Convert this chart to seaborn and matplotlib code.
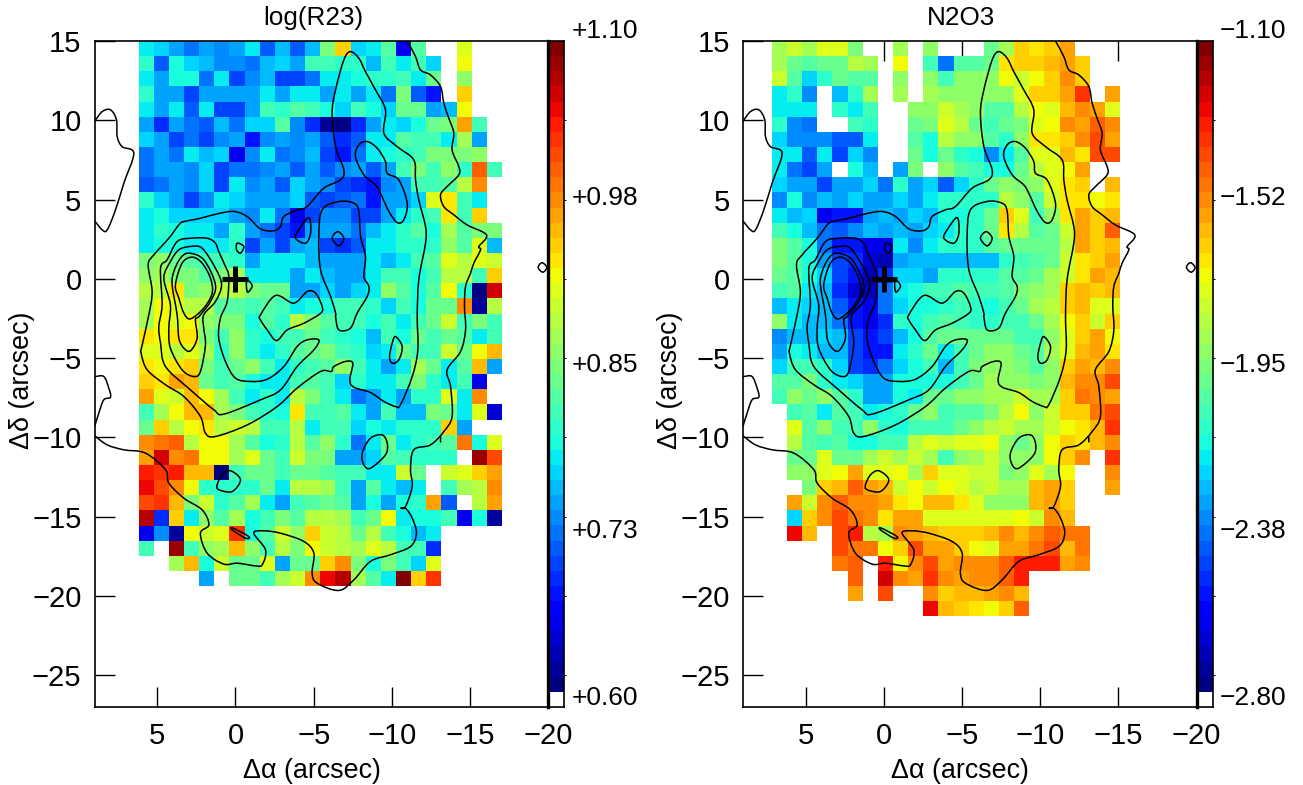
import numpy as np
import matplotlib
matplotlib.use('Agg')
import matplotlib.pyplot as plt
from matplotlib.path import Path
from matplotlib.patches import PathPatch
import seaborn as sns

X = np.nan

# log(R23), rows from north to south, in units of 0.01
r23_rows = [
    [78,77,74,72,75,73,75,78,71,76,71,76,85,94,77,78,83,65,83,X,X,91,X,X],
    [80,71,79,77,76,73,73,72,76,77,75,81,81,80,80,76,82,78,82,77,X,92,X,X],
    [78,75,79,79,72,78,70,73,76,70,70,72,78,78,79,80,80,81,78,84,X,86,X,X],
    [80,75,74,70,74,75,75,74,78,74,78,78,75,78,75,78,72,85,71,67,X,94,X,X],
    [78,75,78,71,78,70,70,75,82,80,83,81,79,77,81,79,77,84,84,75,76,92,X,X],
    [74,69,74,72,71,76,72,77,77,83,73,69,62,61,69,74,78,77,79,84,85,97,82,X],
    [77,74,70,72,70,73,75,68,73,75,73,74,71,69,71,78,78,83,81,81,78,87,75,X],
    [72,74,72,78,76,77,65,73,78,72,73,76,70,67,72,78,79,80,82,85,85,85,86,X],
    [72,74,74,73,77,70,72,72,73,74,71,75,71,73,75,71,74,82,85,82,86,80,100,81],
    [71,72,74,73,77,70,78,73,75,71,77,74,73,70,69,67,73,74,82,81,83,88,98,X],
    [80,77,75,70,73,78,77,74,74,75,77,71,70,71,72,67,74,75,77,91,93,81,78,X],
    [78,79,77,77,77,77,75,73,78,72,65,70,73,73,70,70,74,78,80,82,93,82,94,X],
    [78,80,79,78,78,74,80,74,72,70,68,75,74,74,72,76,78,80,83,79,87,83,85,85],
    [78,79,79,78,78,78,80,70,75,70,74,76,70,69,71,78,78,80,80,80,86,83,91,76],
    [85,86,84,83,82,81,80,75,78,78,78,76,75,75,75,78,76,78,81,83,91,89,91,90],
    [86,87,85,85,83,85,87,78,78,78,74,78,76,75,74,78,82,81,79,82,88,88,81,94],
    [89,89,93,85,86,88,88,85,84,84,74,74,77,74,77,78,86,83,79,83,92,80,61,106],
    [87,92,91,89,89,83,83,81,83,82,78,79,79,81,81,80,77,82,79,84,84,98,62,88],
    [87,92,91,92,86,85,85,79,83,80,88,85,83,81,82,79,81,78,82,84,90,81,85,82],
    [93,92,93,93,85,82,86,80,79,81,82,84,81,80,79,76,81,79,84,82,84,83,78,82],
    [91,91,89,91,87,80,86,80,78,80,83,84,85,81,80,77,78,84,82,82,90,84,92,95],
    [93,92,93,94,85,82,84,86,82,78,80,82,83,86,81,78,75,78,87,84,78,83,95,74],
    [94,93,97,95,84,82,83,79,78,78,81,83,81,77,80,78,78,81,85,80,78,81,65,X],
    [97,91,90,96,92,87,81,78,80,78,88,85,82,78,72,74,78,75,80,80,91,78,98,X],
    [82,87,92,95,95,87,85,82,80,79,93,82,81,83,78,74,82,76,76,85,84,78,91,64],
    [84,94,88,92,93,89,90,89,82,81,89,78,81,82,77,79,78,80,80,80,94,75,X,X],
    [98,99,100,89,92,92,87,83,79,80,89,83,86,80,72,78,84,78,80,81,83,99,79,91],
    [97,106,98,99,92,92,87,91,84,81,90,85,85,74,74,77,83,82,80,80,80,X,108,101],
    [104,102,104,96,96,61,82,84,84,81,84,84,83,81,81,78,78,90,84,X,90,91,94,97],
    [105,101,98,92,80,80,80,80,84,78,89,89,87,81,74,83,78,76,78,X,81,87,89,98],
    [101,102,96,85,90,80,83,87,78,75,82,83,84,83,75,79,74,79,80,97,71,X,89,97],
    [107,69,94,78,86,83,87,79,81,85,83,88,88,87,81,84,92,78,79,79,82,65,79,62],
    [65,73,62,92,90,91,103,79,83,90,86,94,90,88,84,88,81,79,76,78,X,X,X,X],
    [81,X,108,82,86,87,96,86,82,88,85,92,90,89,87,91,89,82,82,69,X,X,X,X],
    [X,X,87,96,79,90,84,84,91,74,84,84,94,98,85,79,85,81,77,91,X,X,X,X],
    [X,X,X,X,74,X,84,84,82,87,90,98,105,107,87,83,78,109,94,102,X,X,X,X],
]

# N2O3, same layout, in units of 0.01
n2o3_rows = [
    [-186,-181,-186,-175,-175,-196,X,X,-186,X,-190,X,X,X,-197,-186,-164,-168,-164,-155,X,X,X],
    [-186,-198,-203,-198,-198,-183,-186,X,-171,X,-206,-237,-203,-201,-198,-169,-164,-162,-159,-155,-164,X,X],
    [-179,-201,-223,-210,-198,-201,-203,X,-190,X,-193,-208,-190,-190,-190,-171,-181,-171,-163,-152,-164,X,X],
    [-217,-210,-235,X,-225,-210,-186,X,-186,X,-188,-190,-190,-190,-192,-190,-174,-163,-163,-155,-136,X,-156],
    [-220,-220,-219,X,-210,-219,-205,X,X,-192,-192,-181,-186,-193,-203,-201,-183,-171,-175,-160,-152,-155,-175],
    [-212,-235,-238,X,X,-205,-212,X,X,-198,-196,-174,-183,-200,-208,-198,-194,-174,-171,-152,-155,-143,-150],
    [-222,-233,-235,-235,-242,-242,-217,X,X,-203,-216,-183,-190,-193,-203,-212,-193,-169,-168,-163,-150,-138,-156],
    [-219,-217,-242,-217,-247,-223,-233,X,X,-198,-216,-198,-210,-216,-233,-219,-201,-174,-174,-160,-168,-140,-141],
    [-219,-239,-245,-229,X,-216,-227,X,-229,-196,X,-193,-201,-206,-216,-215,-198,-183,-174,-170,-155,X,X],
    [-223,-230,-231,-247,-230,-230,-224,-237,-212,-230,-222,-243,-223,-210,-197,-193,-195,-190,-174,-168,-163,X,-160],
    [-233,-216,-235,-227,-230,-223,-230,-230,-221,-230,-219,-210,-212,-212,-210,-183,-190,-201,-181,-169,-168,-171,-168],
    [-220,-227,-222,-261,-255,-254,-230,-225,-230,-223,-228,-216,-216,-210,-197,-164,-174,-206,-193,-169,-155,-163,-160],
    [-206,-216,-227,-240,-243,-235,-227,-231,-227,-230,-222,-219,-212,-212,-198,-168,-184,-203,-198,-181,-155,-164,-144],
    [-196,-203,-216,-240,-255,-256,-263,-261,-219,-233,-219,-212,-212,-210,-201,-200,-198,-198,-198,-183,-155,-164,-160],
    [-196,-203,-216,-230,-245,-252,-267,-270,-229,-227,-227,-227,-227,-227,-227,-210,-206,-203,-198,-181,-168,-164,-156],
    [-198,-203,-216,-223,-245,-256,-270,-252,-223,-224,-231,-212,-212,-212,-210,-201,-201,-198,-188,-181,-168,-155,-160],
    [-205,-201,-219,-227,-249,-268,-270,-238,-220,-216,-205,-206,-203,-206,-206,-203,-196,-193,-186,-163,-160,-163,-158],
    [-227,-217,-223,-227,-242,-256,-261,-237,-221,-216,-216,-212,-206,-210,-216,-205,-198,-186,-183,-164,-160,-174,-174],
    [-192,-217,-225,-227,-237,-254,-261,-249,-210,-216,-206,-201,-206,-210,-212,-208,-208,-198,-186,-172,-163,-178,-162],
    [-233,-227,-227,-222,-227,-245,-254,-247,-227,-216,-203,-200,-198,-200,-198,-200,-206,-206,-193,-177,-163,-155,-172],
    [-230,-216,-219,-225,-227,-245,-256,-255,-219,-212,-198,-219,-206,-200,-190,-190,-200,-203,-188,-177,-160,-156,-166],
    [-222,-206,-206,-212,-223,-247,-252,-239,-223,-215,-206,-227,-205,-196,-190,-190,-194,-203,-192,-162,-155,-160,-150],
    [-201,-203,-194,-210,-219,-223,-230,-230,-216,-216,-216,-216,-205,-198,-188,-192,-192,-195,-192,-160,-152,-150,-141],
    [-206,-190,-198,-192,-201,-210,-230,-230,-216,-219,-198,-198,-190,-190,-186,-186,-181,-186,-186,-164,-148,-150,-155],
    [X,-206,-201,-217,-201,-206,-219,-216,-210,-198,-193,-208,-203,-201,-196,-183,-171,-193,-181,-164,-164,-146,-138],
    [X,-177,-201,-192,-206,-205,-192,-212,-216,-205,-206,-205,-198,-190,-183,-178,-186,-188,-181,-171,-167,-160,-136],
    [X,-183,-201,-206,-201,-216,-214,-206,-206,-183,-177,-181,-177,-175,-172,-193,-199,-193,-171,-164,-168,-158,-150],
    [X,-198,-198,-175,-198,-198,-186,-178,-186,-181,-186,-206,-193,-186,-181,-190,-190,-190,-172,-164,-152,X,-136],
    [X,-192,-192,-177,-170,-156,-177,-175,-170,-186,-162,-175,-177,-178,-181,-195,-190,-177,-186,-172,X,X,-150],
    [X,X,-194,-162,-158,-144,-156,-158,-181,-172,-181,-171,-177,-183,-181,-186,-186,-160,-156,-164,X,X,-156],
    [X,-156,-181,-152,-143,-152,-152,-156,-168,-172,-158,-160,-168,-177,-190,-192,-190,-160,-156,-163,X,X,X],
    [X,-223,-163,-150,-138,-146,-152,-166,-155,-156,-177,-175,-175,-177,-177,-175,-171,-181,-152,-160,X,X,X],
    [X,-129,-158,X,-138,-132,-183,-186,-150,-155,-158,-162,-162,-162,-160,-152,-158,-152,-143,-148,-148,X,X],
    [X,X,X,X,-138,-148,-148,-172,-164,-141,-156,-156,-162,-170,-175,-155,-155,-148,-141,-160,-146,X,X],
    [X,X,X,X,-148,-143,X,-133,-172,-150,-138,-156,-152,-152,-150,-143,-133,-133,-132,-155,-150,X,X],
    [X,X,X,X,X,-144,X,-125,-150,-156,-135,-150,-155,-152,-152,-143,-133,X,X,X,X,X,X],
    [X,X,X,X,X,-155,X,-141,X,X,-152,-163,-160,-158,-155,-152,-160,X,X,X,X,X,X],
    [X,X,X,X,X,X,X,X,X,X,-129,-158,-164,-167,-171,-165,-142,X,X,X,X,X,X],
]

# Continuum contours in arcsec, (x, y)
contours = [
    [(-10.98,15.0),(-11.51,14.02),(-11.83,13.18),(-12.47,12.86),(-13.11,12.13),(-13.32,11.08),(-13.64,10.13),
     (-13.96,9.18),(-13.85,8.13),(-14.28,7.08),(-14.28,6.56),(-13.53,5.82),(-13.11,5.30),(-13.32,4.56),(-13.96,4.04),
     (-14.81,3.40),(-16.05,2.77),(-15.56,2.04),(-15.67,1.83),(-15.24,0.99),(-15.03,0.36),(-14.71,-0.48),(-14.64,-1.74),
     (-14.71,-3.22),(-14.39,-4.58),(-13.53,-5.74),(-13.75,-6.79),(-13.85,-8.68),(-13.32,-9.63),(-12.47,-10.47),
     (-11.40,-10.78),(-11.19,-12.04),(-11.30,-13.09),(-10.87,-14.36),(-10.55,-14.46),(-10.9,-14.5),(-11.30,-15.09),
     (-11.57,-16.04),(-11.19,-16.88),(-9.91,-17.40),(-8.63,-17.82),(-7.57,-18.98),(-6.61,-19.65),(-5.22,-19.19),
     (-4.90,-18.56),(-5.01,-17.30),(-4.37,-16.56),(-2.88,-16.04),(-1.81,-15.89),(-1.17,-16.04),(-1.92,-17.09),
     (-1.71,-18.03),(-1.28,-18.10),(-0.11,-17.93),(0.74,-17.99),(1.81,-17.30),(2.24,-16.04),(1.70,-15.51),(2.13,-14.57),
     (3.30,-13.83),(4.26,-12.88),(4.47,-12.04),(5.75,-10.99),(7.14,-10.78),(8.20,-10.47),(9.0,-9.9)],
    [(9.0,9.95),(8.52,10.55),(7.99,10.66),(7.61,10.03),(7.56,8.97),(7.25,8.34),(6.50,7.92),(7.14,6.03),(7.67,4.35),
     (8.20,3.09),(8.52,3.09),(9.0,3.65)],
    [(9.0,-6.16),(8.42,-6.16),(8.10,-6.89),(7.99,-7.46),(8.42,-7.63),(8.74,-8.47),(9.0,-9.3)],
    [(-7.35,14.33),(-7.89,13.91),(-8.31,13.07),(-8.95,11.92),(-9.59,10.66),(-9.49,9.18),(-10.34,8.34),(-11.40,7.50),
     (-11.51,6.24),(-11.72,4.98),(-12.15,3.30),(-12.15,2.25),(-11.72,-0.06),(-11.62,-2.37),(-11.66,-4.48),(-11.30,-6.16),
     (-10.55,-7.94),(-10.23,-8.05),(-9.49,-7.73),(-8.63,-7.17),(-7.57,-6.83),(-7.31,-6.37),(-7.50,-5.32),(-7.03,-5.21),
     (-6.29,-5.53),(-6.12,-5.84),(-5.44,-5.84),(-3.94,-6.89),(-2.67,-8.05),(-0.75,-9.21),(1.28,-9.94),(1.92,-9.73),
     (2.24,-8.68),(3.30,-7.42),(4.47,-6.68),(5.64,-5.74),(6.03,-4.69),(5.97,-4.2),(5.54,-2.27),(5.33,-0.80),(5.58,0.88),
     (5.22,1.51),(4.26,2.56),(3.62,3.40),(3.30,3.61),(2.24,3.82),(1.17,4.10),(0.11,4.25),(-0.75,3.93),(-1.60,3.15),
     (-2.45,3.03),(-2.88,3.30),(-3.09,3.93),(-3.94,4.35),(-4.58,4.56),(-5.65,5.72),(-6.71,6.24),(-6.93,6.87),(-6.40,8.34),
     (-6.18,10.45),(-6.40,11.92),(-6.93,13.81),(-7.35,14.33)],
    [(-6.61,4.88),(-7.57,4.77),(-7.89,4.25),(-8.00,2.67),(-8.31,1.41),(-8.21,0.15),(-8.53,-0.48),(-8.42,-1.11),
     (-7.78,-2.16),(-7.35,-3.11),(-6.61,-3.22),(-6.40,-2.38),(-6.40,-2.16),(-6.08,-1.11),(-5.44,0.57),(-5.33,2.67),
     (-5.54,4.35),(-6.61,4.88)],
    [(-6.18,2.56),(-6.54,2.98),(-6.93,2.56),(-6.61,2.08),(-6.18,2.56)],
    [(-8.42,8.66),(-9.06,8.24),(-9.59,7.40),(-9.70,6.66),(-10.44,6.24),(-10.98,4.77),(-10.76,3.72),(-10.34,3.55),
     (-9.81,4.25),(-9.27,5.40),(-8.95,5.93),(-8.21,6.56),(-7.67,7.71),(-7.89,8.45),(-8.42,8.66)],
    [(-4.69,3.87),(-4.80,2.88),(-4.48,2.25),(-3.84,2.56),(-4.05,3.09),(-4.69,3.87)],
    [(-0.11,2.25),(-0.53,2.04),(-0.32,1.62),(-0.07,1.83),(-0.11,2.25)],
    [(-0.75,-0.06),(-1.07,-0.44),(-0.79,-0.84),(-0.70,-0.48),(-0.75,-0.06)],
    [(-1.60,-2.27),(-2.56,-1.05),(-3.73,-1.53),(-4.58,-0.80),(-5.12,-0.90),(-5.54,-1.74),(-5.44,-2.17),(-4.37,-2.80),
     (-3.31,-3.22),(-2.62,-3.89),(-2.03,-3.22),(-1.60,-2.59),(-1.60,-2.27)],
    [(4.37,1.20),(3.73,2.35),(2.88,2.56),(1.81,2.56),(1.28,2.25),(1.07,1.72),(0.64,0.78),(0.43,0.15),(0.53,-1.43),
     (0.96,-2.48),(1.07,-3.74),(0.64,-5.21),(0.00,-6.26),(-0.96,-6.47),(-2.03,-6.33),(-3.09,-5.53),(-3.94,-4.27),
     (-4.58,-3.85),(-5.33,-3.85),(-5.01,-4.48),(-3.94,-5.53),(-2.88,-7.00),(-1.60,-7.63),(0.74,-8.53),(1.38,-8.26),
     (2.88,-7.00),(4.47,-5.53),(4.79,-4.06),(4.90,-3.0),(4.69,-1.64),(4.79,0.67),(4.37,1.20)],
    [(4.16,1.09),(3.62,1.83),(2.88,2.04),(2.13,1.93),(1.28,0.67),(0.89,-0.38),(1.28,-1.43),(2.03,-2.27),(2.03,-3.11),
     (1.92,-4.16),(2.24,-5.84),(2.66,-6.16),(3.41,-5.74),(4.16,-4.37),(4.26,-3.11),(4.16,-1.64),(4.58,0.04),(4.16,1.09)],
    [(3.94,0.46),(3.52,1.30),(2.98,1.62),(2.02,1.20),(1.28,-0.38),(1.60,-1.43),(2.34,-2.38),(2.56,-2.58),(2.45,-3.74),
     (2.88,-4.54),(3.30,-4.37),(3.62,-3.74),(3.73,-2.27),(4.05,-0.38),(3.94,0.46)],
    [(3.84,-0.38),(3.41,0.99),(2.77,1.37),(2.13,0.99),(1.60,0.04),(1.49,-0.90),(2.03,-1.85),(2.88,-2.52),(3.30,-2.16),
     (3.62,-1.22),(3.84,-0.38)],
    [(-9.38,-9.84),(-9.70,-10.36),(-9.59,-11.10),(-8.63,-11.94),(-8.21,-11.73),(-8.10,-10.99),(-8.63,-10.05),(-9.38,-9.84)],
    [(-10.23,-3.64),(-10.66,-4.27),(-10.44,-5.11),(-10.02,-5.32),(-9.85,-4.90),(-10.02,-4.06),(-10.23,-3.64)],
    [(0.32,-12.10),(-0.32,-12.67),(0.21,-13.41),(1.06,-13.30),(1.17,-12.99),(0.85,-12.36),(0.32,-12.10)],
    [(0.15,-15.72),(-0.85,-16.25),(-0.64,-16.35),(0.21,-15.83),(0.15,-15.72)],
    [(-13.11,-9.94),(-13.11,-10.32)],
    [(-19.35,0.72),(-19.6,1.02),(-19.9,0.72),(-19.65,0.42),(-19.35,0.72)],
]

x_ticks = [5, 0, -5, -10, -15, -20]
y_ticks = [15, 10, 5, 0, -5, -10, -15, -20, -25]
r23_labels = ['+1.10', '+0.98', '+0.85', '+0.73', '+0.60']
n2o3_labels = ['\u22121.10', '\u22121.52', '\u22121.95', '\u22122.38', '\u22122.80']

W, H = 1303, 785
XLIM = (9, -20)
YLIM = (-27, 15)
CELL_X = 0.968
CELL_Y = 0.955
N_LEVELS = 43

sns.set_theme(style='white')
plt.rcParams['font.family'] = ['Liberation Sans', 'DejaVu Sans']
cmap = plt.get_cmap('jet', N_LEVELS)


def minus(v):
    return f'{v}'.replace('-', '\u2212')


def smooth_path(line):
    # Bezier curve through the read vertices, so the contours are not angular
    pts = np.array(line, dtype=float)
    closed = len(pts) > 3 and np.allclose(pts[0], pts[-1])
    if closed:
        body = pts[:-1]
        prev_pts = np.roll(body, 1, axis=0)
        next_pts = np.roll(body, -1, axis=0)
        tang = (next_pts - prev_pts) / 6
        tang = np.vstack([tang, tang[:1]])
    else:
        tang = np.zeros_like(pts)
        tang[1:-1] = (pts[2:] - pts[:-2]) / 6
        tang[0] = (pts[1] - pts[0]) / 3
        tang[-1] = (pts[-1] - pts[-2]) / 3
    verts = [pts[0]]
    codes = [Path.MOVETO]
    for i in range(len(pts) - 1):
        verts += [pts[i] + tang[i], pts[i + 1] - tang[i + 1], pts[i + 1]]
        codes += [Path.CURVE4] * 3
    return Path(verts, codes)


def draw_panel(fig, left_px, rows, scale_min, scale_max, grid_x0, title, labels):
    ax = fig.add_axes([left_px / W, 1 - 707 / H, 453.6 / W, 666 / H], facecolor='none')
    ax.set_xlim(*XLIM)
    ax.set_ylim(*YLIM)

    vals = np.array(rows, dtype=float) / 100
    n_rows, n_cols = vals.shape
    f_x = (XLIM[0] - grid_x0) / (XLIM[0] - XLIM[1])
    f_w = n_cols * CELL_X / (XLIM[0] - XLIM[1])
    f_h = n_rows * CELL_Y / (YLIM[1] - YLIM[0])
    hm = ax.inset_axes([f_x, 1 - f_h, f_w, f_h], zorder=0.5)
    sns.heatmap(vals, ax=hm, cmap=cmap, vmin=scale_min, vmax=scale_max, cbar=False,
                xticklabels=False, yticklabels=False)
    hm.set_axis_off()

    for line in contours:
        ax.add_patch(PathPatch(smooth_path(line), fill=False, edgecolor='black', lw=1.1, zorder=2))
    ax.plot([0], [0], marker='+', ms=19, mew=3.6, color='black', zorder=3)

    for s in ax.spines.values():
        s.set_visible(True)
        s.set_color('black')
        s.set_linewidth(1.2)
    ax.set_xticks(x_ticks)
    ax.set_xticklabels([minus(v) for v in x_ticks])
    ax.set_yticks(y_ticks)
    ax.set_yticklabels([minus(v) for v in y_ticks])
    ax.tick_params(axis='both', direction='in', length=14.5, width=1.0, color='black',
                   labelsize=21, labelcolor='black', top=True, left=True, bottom=True, right=False)
    ax.tick_params(axis='x', pad=10.5)
    ax.tick_params(axis='y', pad=9.5)
    ax.set_title(title, fontsize=18.8, color='black', x=0.481, pad=11.5)
    ax.set_xlabel('\u0394\u03b1 (arcsec)', fontsize=19.4, color='black')
    ax.xaxis.set_label_coords(0.479, -0.077)
    ax.set_ylabel('\u0394\u03b4 (arcsec)', fontsize=19.4, color='black')
    ax.yaxis.set_label_coords(-0.1316, 0.491)

    # colour bar
    cax = fig.add_axes([(left_px + 453.6) / W, 1 - 707 / H, 16 / W, 666 / H])
    levels = scale_min + (np.arange(N_LEVELS)[::-1] + 0.5) / N_LEVELS * (scale_max - scale_min)
    bar = np.append(levels, np.nan).reshape(-1, 1)
    sns.heatmap(bar, ax=cax, cmap=cmap, vmin=scale_min, vmax=scale_max, cbar=False,
                xticklabels=False, yticklabels=False)
    for s in cax.spines.values():
        s.set_visible(True)
        s.set_color('black')
        s.set_linewidth(1.2)
    cax.spines['left'].set_linewidth(2.4)
    cax.yaxis.tick_right()
    cax.set_yticks([(YLIM[1] - v) / (YLIM[1] - YLIM[0]) * (N_LEVELS + 1) for v in y_ticks[1:]])
    cax.set_yticklabels([])
    cax.tick_params(axis='y', length=1.5, width=0.7, color='black', right=True, left=False)

    for lab, y_px in zip(labels, [31, 198, 365, 531, 698]):
        fig.text((left_px + 453.6 + 23) / W, 1 - y_px / H, lab, fontsize=19, color='black',
                 ha='left', va='center')
    return ax


fig = plt.figure(figsize=(W / 100, H / 100), dpi=100, facecolor='white')
draw_panel(fig, 94.7, r23_rows, 0.60, 1.10, 6.19, 'log(R23)', r23_labels)
draw_panel(fig, 743.0, n2o3_rows, -2.80, -1.10, 7.15, 'N2O3', n2o3_labels)

fig.savefig('out.png', dpi=100)
